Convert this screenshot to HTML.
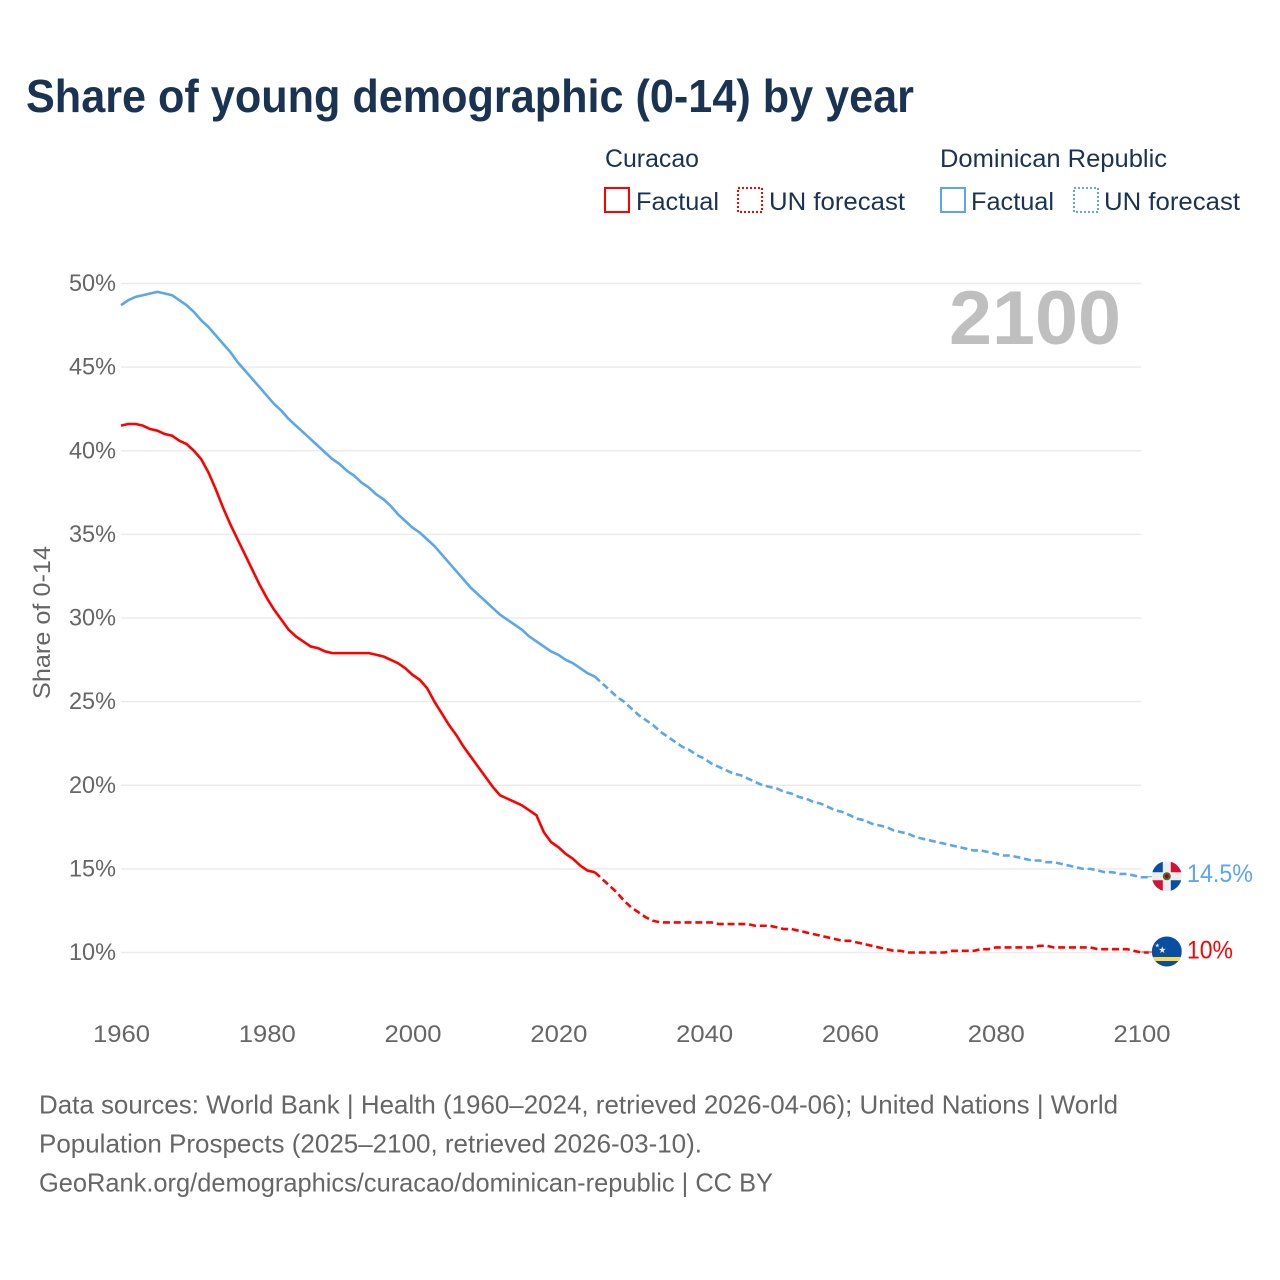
<!DOCTYPE html>
<html lang="en">
<head>
<meta charset="utf-8">
<title>Share of young demographic (0-14) by year</title>
<style>
html,body{margin:0;padding:0;background:#fff;width:1280px;height:1280px;overflow:hidden}
svg{display:block}
text{font-family:"Liberation Sans",sans-serif}
</style>
</head>
<body>
<svg id="chart" xmlns="http://www.w3.org/2000/svg" width="1280" height="1280" viewBox="0 0 1280 1280">
  <defs>
    <clipPath id="flag-clip-a"><circle cx="0" cy="0" r="15"/></clipPath>
  </defs>
  <rect x="0" y="0" width="1280" height="1280" fill="#fff"/>
  <text x="26" y="112" font-size="46" font-weight="700" fill="#1a3352" textLength="888" lengthAdjust="spacingAndGlyphs">Share of young demographic (0-14) by year</text>

  <g>
    <text x="605" y="167" font-size="25" fill="#1a3352" textLength="94" lengthAdjust="spacingAndGlyphs">Curacao</text>
    <text x="940" y="167" font-size="25" fill="#1a3352" textLength="227" lengthAdjust="spacingAndGlyphs">Dominican Republic</text>
    <rect x="605" y="188" width="24" height="24" fill="none" stroke="#ff0000" stroke-width="2"/>
    <text x="636" y="210" font-size="25" fill="#1a3352" textLength="83" lengthAdjust="spacingAndGlyphs">Factual</text>
    <rect x="738" y="188" width="24" height="24" fill="none" stroke="#ff0000" stroke-width="2" stroke-dasharray="2 2"/>
    <text x="769" y="210" font-size="25" fill="#1a3352" textLength="136" lengthAdjust="spacingAndGlyphs">UN forecast</text>
    <rect x="941" y="188" width="24" height="24" fill="none" stroke="#5ba6ec" stroke-width="2"/>
    <text x="971" y="210" font-size="25" fill="#1a3352" textLength="83" lengthAdjust="spacingAndGlyphs">Factual</text>
    <rect x="1074" y="188" width="24" height="24" fill="none" stroke="#5ba6ec" stroke-width="2" stroke-dasharray="2 2"/>
    <text x="1104" y="210" font-size="25" fill="#1a3352" textLength="136" lengthAdjust="spacingAndGlyphs">UN forecast</text>
  </g>

  <g id="grid"></g>
  <g id="y-ticks"></g>
  <g id="x-ticks"></g>
  <text x="949" y="344" font-size="76" font-weight="700" fill="#bfbfbf" textLength="172" lengthAdjust="spacingAndGlyphs">2100</text>
  <text transform="translate(50,699) rotate(-90)" x="0" y="0" font-size="24" fill="#666" textLength="153" lengthAdjust="spacingAndGlyphs">Share of 0-14</text>
  <g id="series"></g>

  <g id="flag-dr">
    <g clip-path="url(#flag-clip-a)">
      <rect x="-15" y="-15" width="30" height="30" fill="#eeeeee"/>
      <rect x="-15" y="-15" width="11" height="11" fill="#0a4ea2"/>
      <rect x="4" y="-15" width="11" height="11" fill="#d80f37"/>
      <rect x="-15" y="4" width="11" height="11" fill="#d80f37"/>
      <rect x="4" y="4" width="11" height="11" fill="#0a4ea2"/>
      <circle cx="0" cy="0" r="4" fill="#496e2d"/>
      <circle cx="0" cy="0" r="2" fill="#a2001d"/>
    </g>
  </g>
  <g id="flag-cw">
    <g clip-path="url(#flag-clip-a)">
      <rect x="-15" y="-15" width="30" height="30" fill="#0a4ea2"/>
      <rect x="-15" y="5.5" width="30" height="4" fill="#ffda44"/>
      <polygon points="-4.5,-5.2 -3.7,-2.6 -1,-2.6 -3.2,-1 -2.4,1.6 -4.5,0 -6.6,1.6 -5.8,-1 -8,-2.6 -5.3,-2.6" fill="#eeeeee"/>
      <polygon points="-9.5,-8.2 -9,-6.7 -7.4,-6.7 -8.7,-5.7 -8.2,-4.2 -9.5,-5.1 -10.8,-4.2 -10.3,-5.7 -11.6,-6.7 -10,-6.7" fill="#eeeeee"/>
    </g>
  </g>
  <text id="end-label-dr" x="1187" font-size="25" fill="#5ba6ec" textLength="66" lengthAdjust="spacingAndGlyphs"></text>
  <text id="end-label-cw" x="1187" font-size="25" fill="#ff0000" textLength="46" lengthAdjust="spacingAndGlyphs"></text>

  <g>
    <text x="39" y="1113.5" font-size="26" fill="#666" textLength="1079" lengthAdjust="spacingAndGlyphs">Data sources: World Bank | Health (1960–2024, retrieved 2026-04-06); United Nations | World</text>
    <text x="39" y="1152.5" font-size="26" fill="#666" textLength="663" lengthAdjust="spacingAndGlyphs">Population Prospects (2025–2100, retrieved 2026-03-10).</text>
    <text x="39" y="1191.5" font-size="26" fill="#666" textLength="734" lengthAdjust="spacingAndGlyphs">GeoRank.org/demographics/curacao/dominican-republic | CC BY</text>
  </g>
</svg>
<script>
const firstYear = 1960;
const lastFactualYear = 2025;
const xTickYears = [1960, 1980, 2000, 2020, 2040, 2060, 2080, 2100];
const yTickValues = [10, 15, 20, 25, 30, 35, 40, 45, 50];
const curacaoValues = [
  41.5,41.6,41.6,41.5,41.3,41.2,41.0,40.9,40.6,40.4,
  40.0,39.5,38.7,37.7,36.6,35.6,34.7,33.8,32.9,32.0,
  31.2,30.5,29.9,29.3,28.9,28.6,28.3,28.2,28.0,27.9,
  27.9,27.9,27.9,27.9,27.9,27.8,27.7,27.5,27.3,27.0,
  26.6,26.3,25.8,25.0,24.3,23.6,23.0,22.3,21.7,21.1,
  20.5,19.9,19.4,19.2,19.0,18.8,18.5,18.2,17.2,16.6,
  16.3,15.9,15.6,15.2,14.9,14.8,
  14.4,14.0,13.6,13.1,12.7,12.4,12.1,11.9,11.8,11.8,
  11.8,11.8,11.8,11.8,11.8,11.8,11.7,11.7,11.7,11.7,
  11.7,11.6,11.6,11.6,11.5,11.4,11.4,11.3,11.2,11.1,
  11.0,10.9,10.8,10.7,10.7,10.6,10.5,10.4,10.3,10.2,
  10.1,10.1,10.0,10.0,10.0,10.0,10.0,10.0,10.1,10.1,
  10.1,10.1,10.2,10.2,10.3,10.3,10.3,10.3,10.3,10.3,
  10.4,10.4,10.3,10.3,10.3,10.3,10.3,10.3,10.2,10.2,
  10.2,10.2,10.2,10.1,10.0,10.0
];
const dominicanValues = [
  48.7,49.0,49.2,49.3,49.4,49.5,49.4,49.3,49.0,48.7,
  48.3,47.8,47.4,46.9,46.4,45.9,45.3,44.8,44.3,43.8,
  43.3,42.8,42.4,41.9,41.5,41.1,40.7,40.3,39.9,39.5,
  39.2,38.8,38.5,38.1,37.8,37.4,37.1,36.7,36.2,35.8,
  35.4,35.1,34.7,34.3,33.8,33.3,32.8,32.3,31.8,31.4,
  31.0,30.6,30.2,29.9,29.6,29.3,28.9,28.6,28.3,28.0,
  27.8,27.5,27.3,27.0,26.7,26.5,
  26.1,25.7,25.3,25.0,24.6,24.2,23.9,23.6,23.2,22.9,
  22.6,22.3,22.1,21.8,21.6,21.3,21.1,20.9,20.7,20.6,
  20.4,20.2,20.0,19.9,19.8,19.6,19.5,19.3,19.2,19.0,
  18.9,18.7,18.5,18.4,18.2,18.0,17.9,17.7,17.6,17.5,
  17.3,17.2,17.1,16.9,16.8,16.7,16.6,16.5,16.4,16.3,
  16.2,16.1,16.1,16.0,15.9,15.8,15.8,15.7,15.6,15.5,
  15.5,15.4,15.4,15.3,15.2,15.1,15.0,15.0,14.9,14.8,
  14.8,14.7,14.7,14.6,14.5,14.5
];

const SVG_NS = 'http://www.w3.org/2000/svg';
function xScale(year) { return 121 + (year - 1960) * (1020.5 / 140); }
function yScale(v) { return 952.5 - (v - 10) * (669 / 40); }
function make(tag, attrs, parent) {
  const el = document.createElementNS(SVG_NS, tag);
  for (const k in attrs) el.setAttribute(k, attrs[k]);
  parent.appendChild(el);
  return el;
}
const grid = document.getElementById('grid');
const yTicks = document.getElementById('y-ticks');
const xTicks = document.getElementById('x-ticks');
const seriesGroup = document.getElementById('series');

yTickValues.forEach(function (v) {
  const line = make('line', {x1: 121, x2: 1141, y1: yScale(v), y2: yScale(v), stroke: '#ebebeb', 'stroke-width': 1.5}, grid);
  
  
  const t = make('text', {x: 69, y: yScale(v) + 7.5, 'font-size': 24, fill: '#666', textLength: 47, lengthAdjust: 'spacingAndGlyphs'}, yTicks);
  t.textContent = v + '%';
  
  
});

xTickYears.forEach(function (year) {
  const t = make('text', {x: xScale(year) + 0.5, y: 1042, 'font-size': 24, fill: '#666', 'text-anchor': 'middle', textLength: 57, lengthAdjust: 'spacingAndGlyphs'}, xTicks);
  t.textContent = year;
  
  
});

function pointsFor(values, startIdx, endIdx) {
  const pts = [];
  for (let i = startIdx; i <= endIdx; i++) {
    pts.push(xScale(firstYear + i).toFixed(2) + ',' + yScale(values[i]).toFixed(2));
  }
  return pts.join(' ');
}
function drawSeries(values, color, key) {
  const split = lastFactualYear - firstYear;
  const solid = make('polyline', {points: pointsFor(values, 0, split), fill: 'none', stroke: color, 'stroke-width': 2.6, 'stroke-linejoin': 'round'}, seriesGroup);
  
  
  const dashed = make('polyline', {points: pointsFor(values, split, values.length - 1), fill: 'none', stroke: color, 'stroke-width': 2.6, 'stroke-dasharray': '7 3.8', 'stroke-linejoin': 'round'}, seriesGroup);
  
  
  const endV = values[values.length - 1];
  const leader = make('line', {x1: xScale(2100), x2: 1152, y1: yScale(endV) - 0.5, y2: yScale(endV) - 0.5, stroke: color, 'stroke-width': 1}, seriesGroup);
  
  
}
drawSeries(dominicanValues, '#5ba6ec', 'dominican-republic');
drawSeries(curacaoValues, '#ff0000', 'curacao');

const drEnd = dominicanValues[dominicanValues.length - 1];
const cwEnd = curacaoValues[curacaoValues.length - 1];
document.getElementById('flag-dr').setAttribute('transform', 'translate(1166.8,' + (yScale(drEnd) - 1) + ')');
document.getElementById('flag-cw').setAttribute('transform', 'translate(1166.8,' + (yScale(cwEnd) - 1) + ')');
const drLabel = document.getElementById('end-label-dr');
drLabel.setAttribute('y', yScale(drEnd) + 5);
drLabel.textContent = drEnd + '%';
const cwLabel = document.getElementById('end-label-cw');
cwLabel.setAttribute('y', yScale(cwEnd) + 6);
cwLabel.textContent = cwEnd + '%';
</script>
</body>
</html>
